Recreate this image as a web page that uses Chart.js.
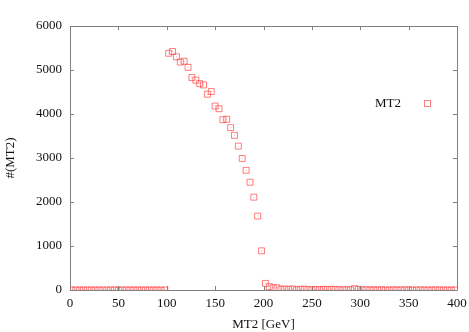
<!DOCTYPE html>
<html>
<head>
<meta charset="utf-8">
<script src="https://cdn.jsdelivr.net/npm/chart.js@4.4.1/dist/chart.umd.min.js"></script>
<style>
  html, body { margin: 0; padding: 0; background: #fff; }
  #wrap { width: 469px; height: 332px; }
</style>
</head>
<body>
<div id="wrap"><canvas id="c" width="469" height="332"></canvas></div>
<script>
// Bin centres (GeV), 4 GeV bins from 0 to 400
const binCenters = [
  2, 6, 10, 14, 18, 22, 26, 30, 34, 38, 42, 46, 50, 54, 58, 62, 66, 70, 74, 78,
  82, 86, 90, 94, 98, 102, 106, 110, 114, 118, 122, 126, 130, 134, 138, 142, 146, 150, 154, 158,
  162, 166, 170, 174, 178, 182, 186, 190, 194, 198, 202, 206, 210, 214, 218, 222, 226, 230, 234, 238,
  242, 246, 250, 254, 258, 262, 266, 270, 274, 278, 282, 286, 290, 294, 298, 302, 306, 310, 314, 318,
  322, 326, 330, 334, 338, 342, 346, 350, 354, 358, 362, 366, 370, 374, 378, 382, 386, 390, 394, 398
];
// Counts
const mt2Counts = [
  0, 0, 0, 0, 0, 0, 0, 0, 0, 0, 0, 0, 0, 0, 0, 0, 0, 0, 0, 0,
  0, 0, 0, 0, 0, 5380, 5420, 5300, 5180, 5200, 5060, 4830, 4770, 4690, 4660, 4450, 4510, 4180, 4120, 3870,
  3880, 3690, 3515, 3270, 2990, 2720, 2450, 2110, 1680, 890, 150, 75, 50, 50, 20, 20, 15, 25, 5, 15,
  20, 10, 5, 10, 5, 15, 10, 15, 10, 5, 5, 5, 5, 30, 15, 5, 5, 0, 5, 0,
  5, 0, 0, 5, 0, 0, 5, 0, 0, 0, 5, 0, 0, 0, 5, 0, 0, 0, 0, 0
];
const seriesLabel = 'MT2';
const xTicks = [0, 50, 100, 150, 200, 250, 300, 350, 400];
const yTicks = [0, 1000, 2000, 3000, 4000, 5000, 6000];
const xTitle = 'MT2 [GeV]';
const yTitle = '#(MT2)';

const points = binCenters.map((x, i) => ({ x: x, y: mt2Counts[i] }));
const markerColor = 'rgba(255,40,40,0.6)';
const axisColor = '#808080';
const fontFamily = "'Liberation Serif', 'DejaVu Serif', serif";

const framePlugin = {
  id: 'frame',
  afterDraw(chart) {
    const ctx = chart.ctx;
    const a = chart.chartArea;
    const xs = chart.scales.x, ys = chart.scales.y;
    ctx.save();
    ctx.strokeStyle = axisColor;
    ctx.lineWidth = 1;
    ctx.beginPath();
    ctx.rect(Math.round(a.left) + 0.5, Math.round(a.top) + 0.5,
             Math.round(a.right - a.left), Math.round(a.bottom - a.top));
    const tl = 4;
    xTicks.forEach(v => {
      const p = Math.round(xs.getPixelForValue(v)) + 0.5;
      ctx.moveTo(p, a.bottom); ctx.lineTo(p, a.bottom - tl);
      ctx.moveTo(p, a.top); ctx.lineTo(p, a.top + tl);
    });
    yTicks.forEach(v => {
      const p = Math.round(ys.getPixelForValue(v)) + 0.5;
      ctx.moveTo(a.left, p); ctx.lineTo(a.left + tl, p);
      ctx.moveTo(a.right, p); ctx.lineTo(a.right - tl, p);
    });
    ctx.stroke();
    // legend: text then marker, inside the plot area
    const ly = a.top + 78;
    ctx.fillStyle = '#111';
    ctx.font = '13px ' + fontFamily;
    ctx.textAlign = 'right';
    ctx.textBaseline = 'middle';
    ctx.fillText(seriesLabel, a.right - 56, ly);
    ctx.strokeStyle = markerColor;
    ctx.strokeRect(a.right - 32.5, ly - 3.5, 6, 6);
    ctx.restore();
  }
};

new Chart(document.getElementById('c'), {
  type: 'scatter',
  data: {
    datasets: [{
      label: seriesLabel,
      data: points,
      pointStyle: 'rect',
      pointRadius: 4.2,
      pointHoverRadius: 4.2,
      borderWidth: 1,
      borderColor: markerColor,
      backgroundColor: 'rgba(0,0,0,0)',
      showLine: false
    }, {
      label: seriesLabel + ' centre',
      data: points,
      pointStyle: 'rect',
      pointRadius: 0.7,
      borderWidth: 0,
      backgroundColor: 'rgba(255,80,80,0.5)',
      showLine: false
    }]
  },
  options: {
    responsive: false,
    animation: false,
    events: [],
    layout: { padding: { top: 26, right: 12, left: 0, bottom: 0 } },
    plugins: { legend: { display: false }, tooltip: { enabled: false } },
    scales: {
      x: {
        type: 'linear',
        min: 0, max: 400,
        afterBuildTicks(scale) { scale.ticks = xTicks.map(v => ({ value: v })); },
        afterFit(scale) { scale.height = 42; scale.paddingLeft = 0; scale.paddingRight = 0; },
        grid: { display: false, drawTicks: false },
        border: { display: false },
        ticks: { color: '#111', font: { family: fontFamily, size: 13 }, padding: 6, maxRotation: 0,
                 callback: v => String(v) },
        title: { display: true, text: xTitle, color: '#111', font: { family: fontFamily, size: 13 }, padding: { top: 2, bottom: 0 } }
      },
      y: {
        type: 'linear',
        min: 0, max: 6000,
        afterBuildTicks(scale) { scale.ticks = yTicks.map(v => ({ value: v })); },
        afterFit(scale) { scale.width = 70; scale.paddingTop = 0; scale.paddingBottom = 0; },
        grid: { display: false, drawTicks: false },
        border: { display: false },
        ticks: { color: '#111', font: { family: fontFamily, size: 13 }, padding: 8,
                 callback: v => String(v) },
        title: { display: true, text: yTitle, color: '#111', font: { family: fontFamily, size: 13 }, padding: { top: 3, bottom: 0 } }
      }
    }
  },
  plugins: [framePlugin]
});
</script>
</body>
</html>
